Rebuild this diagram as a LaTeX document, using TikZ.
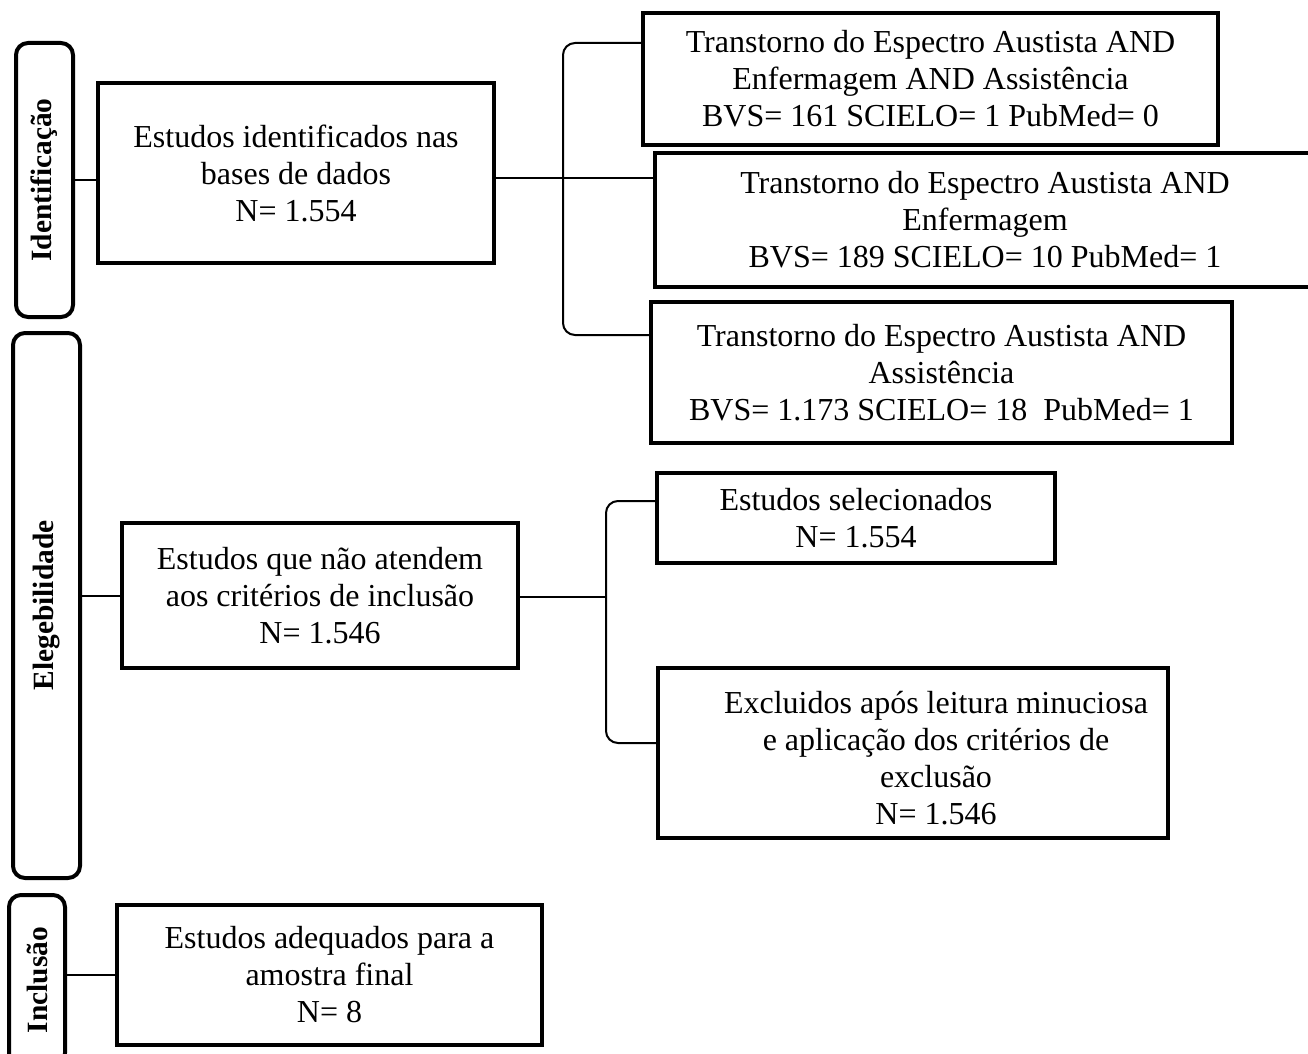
\documentclass[tikz,border=0pt]{standalone}
\usepackage{fontspec}
\setmainfont{Liberation Serif}
\usetikzlibrary{calc}

\tikzset{
  box/.style={draw, line width=2.2pt, align=center, inner sep=0pt,
    font=\fontsize{16pt}{18.5pt}\selectfont},
  txt/.style={align=center, inner sep=0pt, font=\fontsize{16pt}{18.5pt}\selectfont},
  stage/.style={draw, line width=2pt, rounded corners=6pt, inner sep=0pt,
    font=\bfseries\fontsize{14.7pt}{17pt}\selectfont},
  link/.style={line width=1pt},
  bracket/.style={line width=1pt, rounded corners=6pt}
}

\begin{document}
\begin{tikzpicture}[x=0.5pt, y=-0.5pt]
    \useasboundingbox (0,0) rectangle (1308,1054);

    % Stage labels on the left
    \foreach \lab/\cx/\cy/\w/\h/\txt in {labId/44.5/180/28.5/137/Identificação,
        labEl/46.5/605.5/33.5/272.5/Elegebilidade, labIn/37/980/28/85/Inclusão} {
        \node[stage, minimum width=\w pt, minimum height=\h pt] (\lab) at (\cx,\cy) {\rotatebox{90}{\txt}};
    }

    % Main column
    \node[box, minimum width=198pt, minimum height=90pt] (ident) at (296,173)
        {Estudos identificados nas\\ bases de dados\\ N= 1.554};
    \node[box, minimum width=198pt, minimum height=72.5pt] (nao) at (320,595.5)
        {Estudos que não atendem\\ aos critérios de inclusão\\ N= 1.546};
    \node[box, minimum width=212.5pt, minimum height=70pt] (final) at (329.5,975)
        {Estudos adequados para a\\ amostra final\\ N= 8};

    % Search strings
    \node[box, minimum width=287.5pt, minimum height=66pt] (buscaA) at (930.5,79)
        {Transtorno do Espectro Austista AND\\ Enfermagem AND Assistência\\ BVS= 161 SCIELO= 1 PubMed= 0};
    \node[box, minimum width=330pt, minimum height=67pt] (buscaB) at (985,220)
        {Transtorno do Espectro Austista AND\\ Enfermagem\\ BVS= 189 SCIELO= 10 PubMed= 1};
    \node[box, minimum width=290.5pt, minimum height=70.5pt] (buscaC) at (941.5,372.5)
        {Transtorno do Espectro Austista AND\\ Assistência\\ BVS= 1.173 SCIELO= 18\ \ PubMed= 1};

    % Screening results
    \node[box, minimum width=199pt, minimum height=45pt] (sel) at (856,518)
        {Estudos selecionados\\ N= 1.554};
    \node[box, minimum width=255pt, minimum height=85pt] (excl) at (913,753) {};
    \node[txt] (exclTxt) at (936,758)
        {Excluidos após leitura minuciosa\\ e aplicação dos critérios de\\ exclusão\\ N= 1.546};

    % Stage connectors
    \draw[link] (labId.east) -- (labId.east -| ident.west);
    \draw[link] (nao.west) -- (nao.west -| labEl.east);
    \draw[link] (final.west) -- (final.west -| labIn.east);

    % Brackets
    \coordinate (split1) at (563,178);
    \coordinate (top1) at (563,43);
    \coordinate (bot1) at (563,335);
    \draw[link] (ident.east |- split1) -- (split1 -| buscaB.west);
    \draw[bracket] (buscaA.west |- top1) -- (top1) -- (bot1) -- (buscaC.west |- bot1);

    \coordinate (split2) at (606,597);
    \coordinate (top2) at (606,501);
    \coordinate (bot2) at (606,743);
    \draw[link] (nao.east |- split2) -- (split2);
    \draw[bracket] (sel.west |- top2) -- (top2) -- (bot2) -- (excl.west |- bot2);

\end{tikzpicture}
\end{document}
